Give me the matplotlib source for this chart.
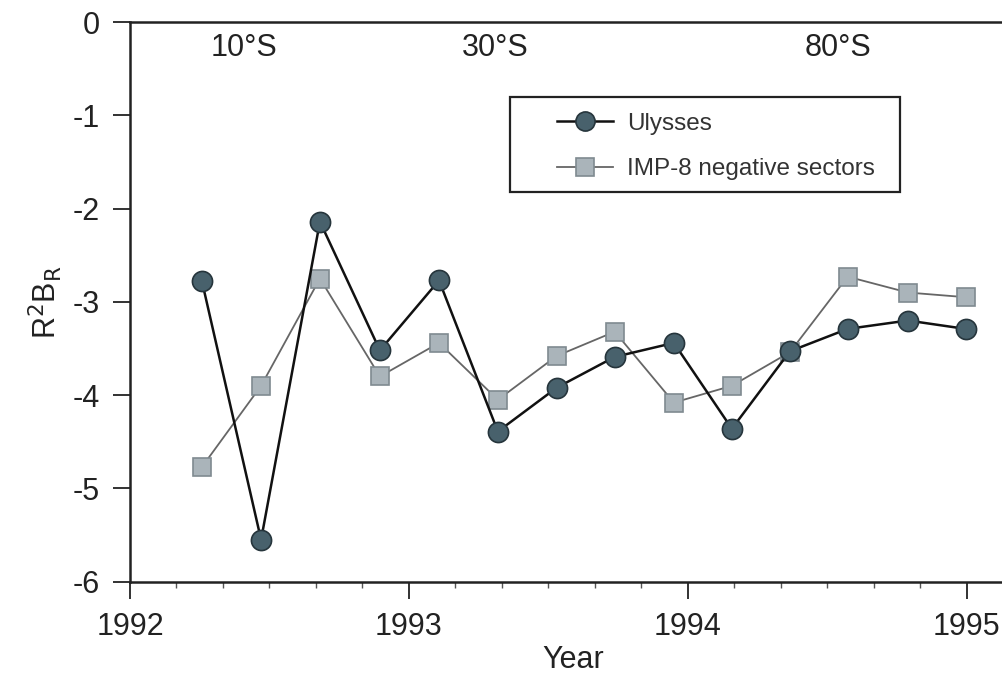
import matplotlib
matplotlib.use("Agg")
import matplotlib.pyplot as plt
from matplotlib.ticker import MultipleLocator
from matplotlib.patches import Rectangle

plt.rcParams['font.family'] = ['Liberation Sans', 'DejaVu Sans']
plt.rcParams['axes.unicode_minus'] = False

years = [1992.258, 1992.470, 1992.681, 1992.896, 1993.108, 1993.319, 1993.530,
         1993.738, 1993.950, 1994.158, 1994.366, 1994.573, 1994.789, 1994.996]
ulysses = [-2.78, -5.55, -2.14, -3.52, -2.77, -4.39, -3.92,
           -3.59, -3.44, -4.36, -3.53, -3.29, -3.20, -3.29]
imp8 = [-4.77, -3.90, -2.75, -3.80, -3.44, -4.05, -3.58,
        -3.32, -4.08, -3.90, -3.54, -2.73, -2.90, -2.95]
lat_labels = ['10°S', '30°S', '80°S']
lat_pos = [1992.41, 1993.31, 1994.54]
xticks = [1992, 1993, 1994, 1995]
yticks = [0, -1, -2, -3, -4, -5, -6]

W, H = 1003, 676
fig = plt.figure(figsize=(W / 100, H / 100), dpi=100)
x0 = 130 / W
px_per_year = 278.9
xmax = 1995.15
width = (xmax - 1992) * px_per_year / W
ax_h_px = 581.7 - 22
ax = fig.add_axes([x0, 1 - 581.7 / H, width, ax_h_px / H])

ax.plot(years, imp8, color='#666666', lw=1.3, marker='s', ms=13,
        mfc='#aab4ba', mec='#7f8a90', mew=1.2, label='IMP-8 negative sectors', zorder=2)
ax.plot(years, ulysses, color='#111111', lw=1.8, marker='o', ms=14.5,
        mfc='#48616c', mec='#26353c', mew=1.2, label='Ulysses', zorder=3)

ax.set_xlim(1992, xmax)
ax.set_ylim(-6, 0)
ax.set_xticks(xticks)
ax.set_yticks(yticks)
ax.xaxis.set_minor_locator(MultipleLocator(1 / 6))
ax.tick_params(axis='both', which='major', direction='out', length=12, width=1.3,
               labelsize=22, color='#222222', labelcolor='#222222')
ax.tick_params(axis='x', which='minor', direction='out', length=4, width=1.0, color='#555555')
ax.tick_params(axis='x', which='major', pad=10)
ax.tick_params(axis='y', which='major', pad=10)

for s in ['left', 'bottom', 'top']:
    ax.spines[s].set_linewidth(1.8)
    ax.spines[s].set_color('#222222')
ax.spines['right'].set_visible(False)

ax.set_xlabel('Year', fontsize=22, color='#222222')
ax.set_ylabel(r'R$^2$B$_\mathrm{R}$', fontsize=22, color='#222222', labelpad=6)
ax.xaxis.set_label_coords((573 - 130) / (width * W), -0.113)

for t, p in zip(lat_labels, lat_pos):
    ax.text(p, -0.28, t, fontsize=22, ha='center', va='center', color='#222222')

# legend frame (drawn separately in figure pixel coordinates)
lx0, ly0, lx1, ly1 = 510, 97, 900, 192
frame = Rectangle((lx0 / W, 1 - ly1 / H), (lx1 - lx0) / W, (ly1 - ly0) / H,
                  transform=fig.transFigure, fill=True, facecolor='white',
                  edgecolor='#222222', lw=1.6, zorder=4, clip_on=False)
ax.add_patch(frame)

handles, labels = ax.get_legend_handles_labels()
leg = ax.legend(handles[::-1], labels[::-1], loc='upper left',
                bbox_to_anchor=((552 - 130) / (width * W), 1 - (108 - 22) / ax_h_px),
                fontsize=17.5, frameon=False, borderpad=0.2, labelspacing=0.97,
                handlelength=2.3, handletextpad=0.6, borderaxespad=0,
                markerscale=0.95)
leg.set_zorder(5)
for txt in leg.get_texts():
    txt.set_color('#333333')

fig.savefig('out.png', dpi=100)
